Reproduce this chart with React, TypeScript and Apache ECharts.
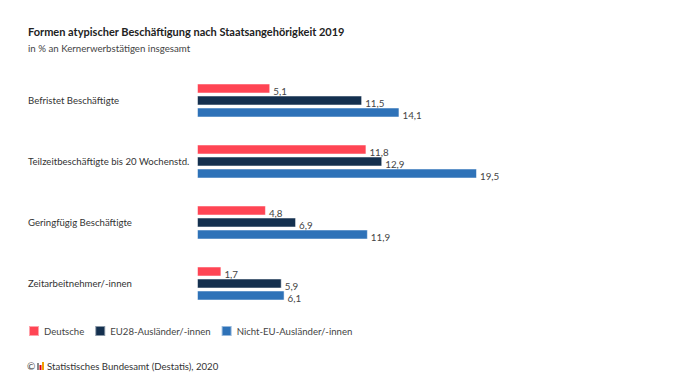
import React, { useEffect, useRef } from "react";
import * as echarts from "echarts";

const categories = [
  "Befristet Beschäftigte",
  "Teilzeitbeschäftigte bis 20 Wochenstd.",
  "Geringfügig Beschäftigte",
  "Zeitarbeitnehmer/-innen",
];
const seriesNames = ["Deutsche", "EU28-Ausländer/-innen", "Nicht-EU-Ausländer/-innen"];
const deutsche = [5.1, 11.8, 4.8, 1.7];
const eu28 = [11.5, 12.9, 6.9, 5.9];
const nichtEu = [14.1, 19.5, 11.9, 6.1];
const colors = ["#ff4554", "#14304f", "#2e72b8"];

const FONT = "Lato, 'Noto Sans', sans-serif";

export default function App() {
  const ref = useRef<HTMLDivElement>(null);
  useEffect(() => {
    if (!ref.current) return;
    const chart = echarts.init(ref.current, null, { renderer: "svg" });
    const data = [deutsche, eu28, nichtEu];
    chart.setOption({
      animation: false,
      backgroundColor: "#ffffff",
      textStyle: { fontFamily: FONT },
      title: {
        text: "Formen atypischer Beschäftigung nach Staatsangehörigkeit 2019",
        subtext: "in % an Kernerwerbstätigen insgesamt",
        left: 23,
        top: 21,
        itemGap: 6,
        textStyle: { fontFamily: FONT, fontSize: 11, fontWeight: "bold", color: "#222" },
        subtextStyle: { fontFamily: FONT, fontSize: 9.7, color: "#444" },
      },
      legend: {
        left: 23,
        top: 320,
        icon: "rect",
        itemWidth: 10,
        itemHeight: 10,
        itemGap: 10,
        textStyle: { fontFamily: FONT, fontSize: 9.6, color: "#444" },
        data: seriesNames,
      },
      grid: { left: 197, right: 201, top: 70, height: 244, containLabel: false },
      xAxis: {
        type: "value",
        min: 0,
        max: 19.5,
        show: false,
      },
      yAxis: {
        type: "category",
        data: categories,
        inverse: true,
        axisLine: { show: false },
        axisTick: { show: false },
        axisLabel: {
          align: "left",
          margin: 169,
          width: 168,
          overflow: "none",
          fontFamily: FONT,
          fontSize: 9.6,
          color: "#333",
        },
      },
      series: seriesNames.map((name, i) => ({
        name,
        type: "bar",
        data: data[i],
        barWidth: 10,
        barGap: "20%",
        itemStyle: { color: colors[i], borderColor: "rgba(255,255,255,0.5)", borderWidth: 1 },
        label: {
          show: true,
          position: "right",
          distance: 3,
          offset: [0, 2],
          fontFamily: FONT,
          fontSize: 9.8,
          color: "#444",
          formatter: (p: any) => String(p.value).replace(".", ","),
        },
      })),
      graphic: [
        {
          type: "text",
          left: 27,
          top: 361,
          style: { text: "©", fontFamily: FONT, fontSize: 10, fill: "#444" },
        },
        { type: "rect", left: 37, top: 363, shape: { width: 2, height: 7 }, style: { fill: "#888" } },
        { type: "rect", left: 39.5, top: 365, shape: { width: 2, height: 5 }, style: { fill: "#e30613" } },
        { type: "rect", left: 42, top: 362, shape: { width: 2, height: 8 }, style: { fill: "#f0a000" } },
        {
          type: "text",
          left: 47,
          top: 361,
          style: {
            text: "Statistisches Bundesamt (Destatis), 2020",
            fontFamily: FONT,
            fontSize: 9.6,
            fill: "#333",
          },
        },
      ],
    });
    return () => chart.dispose();
  }, []);
  return (
    <div
      ref={ref}
      style={{ position: "fixed", left: 0, top: 0, width: 678, height: 381 }}
    />
  );
}
